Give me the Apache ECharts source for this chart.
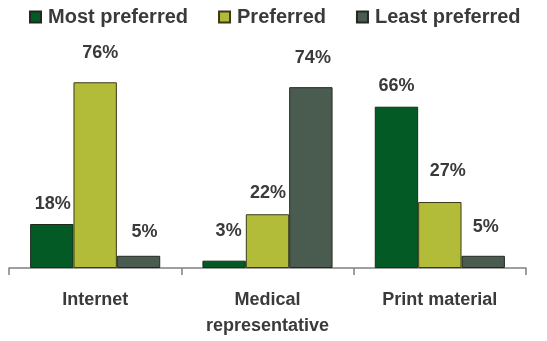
<!DOCTYPE html>
<html>
<head>
<meta charset="utf-8">
<script src="https://cdn.jsdelivr.net/npm/echarts@6/dist/echarts.min.js"></script>
<style>html,body{margin:0;padding:0;background:#fff}#c{width:547px;height:341px}</style>
</head>
<body>
<div id="c"></div>
<script>
const categories = ['Internet', 'Medical\nrepresentative', 'Print material'];
const seriesNames = ['Most preferred', 'Preferred', 'Least preferred'];
const mostPreferred = [18, 3, 66];
const preferred = [76, 22, 27];
const leastPreferred = [5, 74, 5];

// label placement tweaks (style only): horizontal shift and gap above bar
const labelDx = [[1, 4.5, 0], [5, 0.5, 8], [6, 2, 2.5]];
const labelGap = [[14, 24, 15], [24, 15.5, 25], [18, 24, 23]];

const colors = ['#035A25', '#B3BC38', '#4A5C50'];
const borders = ['#1e2a1e', '#3a3a18', '#222822'];
const values = [mostPreferred, preferred, leastPreferred];

const chart = echarts.init(document.getElementById('c'));
const series = values.map((vals, s) => ({
  name: seriesNames[s],
  type: 'bar',
  barGap: '0%',
  barCategoryGap: '24.5%',
  itemStyle: { color: colors[s], borderColor: borders[s], borderWidth: 1 },
  data: vals.map((v, i) => ({
    value: v,
    label: {
      show: true,
      position: 'top',
      distance: labelGap[s][i] - 3.5,
      offset: [labelDx[s][i], 0],
      formatter: '{c}%',
      fontFamily: 'Liberation Sans',
      fontWeight: 'bold',
      fontSize: 18,
      color: '#3a3a3a'
    }
  }))
}));

chart.setOption({
  animation: false,
  legend: {
    data: seriesNames,
    left: 24,
    top: 2,
    itemWidth: 11,
    itemHeight: 11,
    itemGap: 30,
    icon: 'rect',
    textStyle: { fontFamily: 'Liberation Sans', fontWeight: 'bold', fontSize: 20, color: '#3a3a3a', padding: [0, 0, 0, 2] }
  },
  grid: { left: 9, right: 21, top: 72.5, bottom: 73, containLabel: false },
  xAxis: {
    type: 'category',
    data: categories,
    axisLine: { lineStyle: { color: '#808080', width: 1.5 } },
    axisTick: { show: true, length: 7, lineStyle: { color: '#808080', width: 1.5 } },
    axisLabel: {
      margin: 19,
      fontFamily: 'Liberation Sans',
      fontWeight: 'bold',
      fontSize: 18,
      lineHeight: 26,
      color: '#3a3a3a'
    }
  },
  yAxis: { type: 'value', min: 0, max: 80, show: false },
  series: series
});
</script>
</body>
</html>
